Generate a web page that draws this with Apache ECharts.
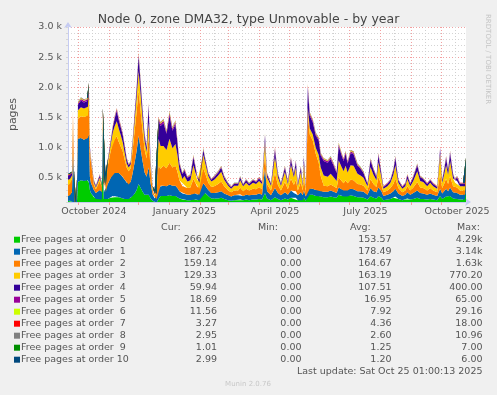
<!DOCTYPE html>
<html><head><meta charset="utf-8">
<script src="https://cdn.jsdelivr.net/npm/echarts@6/dist/echarts.min.js"></script>
<style>html,body{margin:0;padding:0;background:#f0f0f0;}#c{width:497px;height:395px;}</style>
</head><body><div id="c"></div>
<script>
// ---- data ----
const startDate = '2024-09-21';
const endDate = '2025-10-26';
const dayOffsets = [0,2,4,5,6,7,8,9,10,13,16,19,20,21,22,23,26,28,32,34,35,36,38,40,43,45,47,49,51,53,55,57,59,61,63,65,67,69,71,73,75,77,79,81,83,85,87,89,91,93,96,99,102,105,108,110,112,115,117,120,123,126,128,130,132,136,138,141,144,147,151,154,157,161,164,167,171,173,176,179,182,186,189,192,195,198,200,204,208,211,214,218,221,224,227,229,231,234,236,237,239,241,243,246,249,252,254,257,261,264,267,270,272,275,277,279,281,284,287,291,294,297,301,304,307,310,312,315,317,321,324,327,329,332,336,339,341,344,347,351,354,357,361,364,367,371,374,376,378,380,382,384,387,389,391,394,397,399,400];

const order0 = [117,120,110,100,90,0,0,100,430,460,
450,470,460,420,300,250,180,150,150,140,
600,150,140,150,170,200,180,190,180,170,
160,150,150,150,170,200,240,300,400,330,
270,220,200,220,160,120,90,90,150,200,
200,200,210,200,200,180,160,140,140,130,
130,150,140,130,130,280,250,200,160,160,
160,170,150,130,120,130,130,140,130,140,
130,140,140,150,140,250,160,130,180,150,
130,160,140,170,150,170,130,160,130,170,
120,230,220,220,200,200,190,180,180,190,
180,170,220,200,190,200,190,210,200,180,
180,170,140,200,170,160,200,170,130,140,
150,170,190,150,130,140,160,140,150,170,
150,150,140,150,140,130,200,150,170,190,
170,200,160,150,150,140,140,140,266];

const order1 = [83,90,150,800,400,0,0,300,720,700,
680,690,700,800,220,170,120,100,150,120,
700,110,120,250,330,400,400,420,400,380,
360,320,270,240,260,380,520,650,800,650,
500,370,320,450,250,110,70,60,200,170,
170,160,180,170,170,150,120,100,100,90,
90,110,100,90,90,130,120,100,90,90,
100,110,90,80,70,80,80,90,70,80,
80,80,80,90,80,400,120,80,150,100,
80,100,80,120,100,110,80,100,80,120,
70,100,100,100,100,100,90,90,90,100,
90,80,120,110,100,110,100,110,110,100,
100,100,80,130,110,100,140,110,70,80,
90,110,130,90,70,80,100,80,100,120,
100,90,80,90,80,70,120,90,110,130,
110,140,100,90,100,80,80,80,187];

const order2 = [183,190,220,680,100,0,0,50,330,360,
380,370,370,500,400,350,80,60,150,80,
200,70,60,300,450,500,550,580,520,470,
420,330,250,220,230,380,520,650,750,620,
500,380,300,500,230,70,40,40,350,280,
330,300,360,300,330,270,180,120,140,110,
120,220,180,120,100,250,200,120,100,110,
140,160,120,80,70,80,80,110,80,100,
80,100,90,110,90,250,120,80,250,130,
80,170,90,200,130,190,80,170,80,220,
70,1230,900,800,600,450,250,100,90,100,
90,80,170,140,120,150,120,150,150,120,
110,100,70,150,120,90,180,100,60,70,
90,120,170,90,60,70,100,70,90,140,
90,90,70,90,70,60,250,90,120,170,
120,190,100,90,90,70,70,70,159];

const order3 = [84,80,60,30,20,0,0,20,140,150,
140,150,150,200,60,40,40,30,50,30,
100,30,30,60,110,150,230,250,220,190,
150,110,70,60,60,100,180,250,320,280,
200,140,110,250,80,30,20,30,450,380,
330,300,400,320,360,280,170,120,150,110,
120,230,170,110,100,220,170,110,90,110,
140,160,110,80,60,80,80,120,80,100,
80,100,90,100,90,200,110,80,270,130,
80,170,90,230,130,200,80,170,80,230,
60,100,100,100,100,130,140,170,160,180,
150,120,280,230,200,240,180,240,240,170,
150,130,70,200,150,110,240,130,60,70,
90,150,220,90,60,70,120,70,110,180,
110,100,70,90,70,60,330,90,150,220,
150,250,130,90,110,70,70,70,129];

const order4 = [66,60,40,10,10,0,0,10,90,110,
100,90,100,100,30,20,30,20,40,20,
50,20,20,30,50,80,130,170,140,130,
120,100,70,40,40,50,90,130,250,180,
130,90,70,280,60,20,10,15,300,330,
380,270,380,290,330,200,100,80,90,60,
70,130,90,60,50,80,60,40,30,40,
50,70,40,30,25,30,30,50,25,40,
30,40,30,40,30,100,50,30,110,50,
30,70,30,90,50,90,30,70,30,100,
25,330,210,200,200,240,200,240,230,240,
190,130,240,190,170,200,150,200,190,130,
110,80,40,110,80,50,120,50,30,40,
40,70,120,40,30,40,60,40,60,100,
60,50,40,40,40,30,80,40,70,120,
70,130,60,40,60,40,40,40,60];

const order5 = [15,14,12,10,8,0,0,5,25,28,
26,25,26,30,12,10,8,7,12,8,
10,8,8,12,15,18,22,25,22,20,
20,18,15,12,12,15,20,25,30,26,
22,18,15,30,14,8,6,6,30,35,
38,32,40,34,36,28,20,16,18,14,
15,24,18,14,12,20,16,12,10,11,
13,16,12,9,8,9,9,13,9,11,
9,11,10,12,10,20,12,9,22,13,
9,16,10,19,13,18,9,16,9,20,
8,40,32,30,28,30,26,28,26,28,
24,18,32,26,24,28,22,28,27,20,
18,15,10,18,15,12,20,12,8,10,
11,15,20,11,8,10,13,10,12,18,
12,11,10,11,10,8,18,11,15,20,
15,22,13,11,12,10,10,10,19];

const order6 = [8,7,6,5,4,0,0,3,12,14,
12,12,13,14,6,5,4,4,5,4,
5,4,4,6,7,8,10,12,10,9,
9,8,7,6,6,7,9,12,15,12,
10,8,7,14,6,4,3,3,14,15,
16,14,18,15,16,12,9,7,8,6,
7,11,8,6,6,9,7,6,5,5,
6,7,5,4,4,4,4,6,4,5,
4,5,5,6,5,9,6,4,10,6,
4,7,5,9,6,8,4,7,4,9,
4,20,14,13,12,13,11,12,11,12,
10,8,14,11,10,12,10,12,12,9,
8,7,5,8,7,5,9,6,4,5,
5,7,9,5,4,5,6,5,6,8,
6,5,5,5,5,4,8,5,7,9,
7,10,6,5,6,5,5,5,12];

const order7 = [4,4,3,3,2,0,0,2,6,7,
6,6,6,7,3,3,2,2,3,2,
3,2,2,3,4,4,5,6,5,5,
4,4,3,3,3,4,5,6,7,6,
5,4,4,6,3,2,2,2,6,6,
7,6,8,7,7,6,4,3,4,3,
3,5,4,3,3,4,4,3,2,3,
3,4,3,2,2,2,2,3,2,3,
2,3,2,3,2,4,3,2,5,3,
2,4,2,4,3,4,2,4,2,4,
2,8,6,6,5,6,5,5,5,6,
5,4,6,5,5,6,5,6,6,4,
4,3,2,4,3,3,4,3,2,2,
3,3,4,3,2,2,3,2,3,4,
3,3,2,3,2,2,4,3,3,4,
3,5,3,3,3,2,2,2,3];

const order8 = [3,2,2,2,1,0,0,1,4,4,
4,4,4,4,2,2,2,1,2,1,
2,1,1,2,2,3,3,3,3,3,
3,2,2,2,2,2,3,3,4,3,
3,2,2,3,2,1,1,1,3,3,
4,3,4,3,4,3,2,2,2,2,
2,3,2,2,2,2,2,2,2,2,
2,2,2,1,1,1,1,2,1,2,
1,2,1,2,1,2,2,1,3,2,
1,2,1,2,2,2,1,2,1,2,
1,4,3,3,3,3,3,3,3,3,
2,2,3,3,2,3,2,3,3,2,
2,2,1,2,2,2,2,2,1,1,
2,2,2,2,1,1,2,1,2,2,
2,2,1,2,1,1,2,2,2,2,
2,3,2,2,2,1,1,1,3];

const order9 = [1,1,1,1,1,0,0,0,2,2,
2,2,2,2,1,1,1,1,1,1,
1,1,1,1,1,1,1,2,1,1,
1,1,1,1,1,1,1,2,2,2,
1,1,1,2,1,1,0,0,1,1,
2,1,2,1,2,1,1,1,1,1,
1,1,1,1,1,1,1,1,1,1,
1,1,1,1,0,1,1,1,1,1,
1,1,1,1,1,1,1,1,1,1,
1,1,1,1,1,1,1,1,1,1,
0,2,1,1,1,1,1,1,1,1,
1,1,1,1,1,1,1,1,1,1,
1,1,1,1,1,1,1,1,1,1,
1,1,1,1,1,1,1,1,1,1,
1,1,1,1,1,1,1,1,1,1,
1,1,1,1,1,1,1,1,1];

const order10 = [1,1,1,1,1,0,0,0,2,2,
2,2,2,2,1,1,1,1,1,1,
1,1,1,1,1,1,1,1,1,1,
1,1,1,1,1,1,1,1,2,1,
1,1,1,1,1,1,0,0,1,1,
1,1,1,1,1,1,1,1,1,1,
1,1,1,1,1,1,1,1,1,1,
1,1,1,1,0,1,1,1,1,1,
1,1,1,1,1,1,1,1,1,1,
1,1,1,1,1,1,1,1,1,1,
0,1,1,1,1,1,1,1,1,1,
1,1,1,1,1,1,1,1,1,1,
1,1,1,1,1,1,1,1,1,1,
1,1,1,1,1,1,1,1,1,1,
1,1,1,1,1,1,1,1,1,1,
1,1,1,1,1,1,1,1,3];

const seriesNames = ['Free pages at order  0','Free pages at order  1','Free pages at order  2','Free pages at order  3','Free pages at order  4','Free pages at order  5','Free pages at order  6','Free pages at order  7','Free pages at order  8','Free pages at order  9','Free pages at order 10'];
const seriesColors = ['#00CC00','#0066B3','#FF8000','#FFCC00','#330099','#990099','#CCFF00','#FF0000','#808080','#008F00','#00487D'];
const curValues = ['266.42','187.23','159.14','129.33','59.94','18.69','11.56','3.27','2.95','1.01','2.99'];
const minValues = ['0.00','0.00','0.00','0.00','0.00','0.00','0.00','0.00','0.00','0.00','0.00'];
const avgValues = ['153.57','178.49','164.67','163.19','107.51','16.95','7.92','4.36','2.60','1.25','1.20'];
const maxValues = ['4.29k','3.14k','1.63k','770.20','400.00','65.00','29.16','18.00','10.96','7.00','6.00'];

const yTicks = [500,1000,1500,2000,2500,3000];
const yTickLabels = ['0.5 k','1.0 k','1.5 k','2.0 k','2.5 k','3.0 k'];
const xTickDates = ['2024-10-17','2025-01-16','2025-04-17','2025-07-17','2025-10-17'];
const xTickLabels = ['October 2024','January 2025','April 2025','July 2025','October 2025'];
const monthStarts = ['2024-10-01','2024-11-01','2024-12-01','2025-01-01','2025-02-01','2025-03-01','2025-04-01','2025-05-01','2025-06-01','2025-07-01','2025-08-01','2025-09-01','2025-10-01'];
const midMonths = ['2024-10-15','2024-11-15','2024-12-15','2025-01-15','2025-02-15','2025-03-15','2025-04-15','2025-05-15','2025-06-15','2025-07-15','2025-08-15','2025-09-15','2025-10-15'];

// ---- chart ----
const DAY = 86400000;
const ts = s => new Date(s + 'T00:00:00Z').getTime();
const t0 = ts(startDate);
const t1 = ts(endDate);
const FONT = 'DejaVu Sans';
const allSeries = [order0,order1,order2,order3,order4,order5,order6,order7,order8,order9,order10];
const xTickTs = xTickDates.map(ts);

const series = allSeries.map((arr, k) => ({
  name: seriesNames[k], type: 'line', stack: 'total', xAxisIndex: 0,
  data: dayOffsets.map((d, i) => [t0 + d * DAY, arr[i]]),
  symbol: 'none', showSymbol: false, lineStyle: { width: 0 },
  itemStyle: { color: seriesColors[k] },
  areaStyle: { color: seriesColors[k], opacity: 1 },
  z: 2, animation: false, silent: true
}));
series.push({
  type: 'line', data: [], z: 1, silent: true, xAxisIndex: 0,
  markLine: {
    z: 1, silent: true, symbol: ['none','none'], animation: false,
    label: { show: false },
    lineStyle: { type: [1, 2], width: 1 },
    data: monthStarts.map(d => ({ xAxis: ts(d), lineStyle: { color: '#f2a0a0', type: [1,2], width: 1 } }))
      .concat(midMonths.map(d => ({ xAxis: ts(d), lineStyle: { color: '#cfcfcf', type: [1,2], width: 1 } })))
  }
});

const graphic = [];
const rowY = i => 239.7 + i * 12;
const colRight = [217, 301.5, 391.5, 482.5];
const heads = ['Cur:', 'Min:', 'Avg:', 'Max:'];
const headX = [161, 258, 350, 457];
heads.forEach((h, j) => graphic.push({ type: 'text', x: headX[j], y: 227.7,
  style: { text: h, font: '9.5px ' + FONT, fill: '#555', textAlign: 'left', textVerticalAlign: 'middle' } }));
seriesNames.forEach((n, i) => {
  graphic.push({ type: 'rect', shape: { x: 14, y: rowY(i) - 3, width: 6, height: 6 }, style: { fill: seriesColors[i] } });
  graphic.push({ type: 'text', x: 21, y: rowY(i), style: { text: n, font: '9.5px ' + FONT, fill: '#555', textAlign: 'left', textVerticalAlign: 'middle' } });
  [curValues, minValues, avgValues, maxValues].forEach((col, j) => {
    graphic.push({ type: 'text', x: colRight[j], y: rowY(i), style: { text: col[i], font: '9.5px ' + FONT, fill: '#555', textAlign: 'right', textVerticalAlign: 'middle' } });
  });
});
graphic.push({ type: 'text', x: 482.5, y: 371.7, style: { text: 'Last update: Sat Oct 25 01:00:13 2025', font: '9.5px ' + FONT, fill: '#555', textAlign: 'right', textVerticalAlign: 'middle' } });
graphic.push({ type: 'text', x: 248, y: 384, style: { text: 'Munin 2.0.76', font: '7px ' + FONT, fill: '#c8c8c8', textAlign: 'center', textVerticalAlign: 'middle' } });
graphic.push({ type: 'text', x: 487.5, y: 14, rotation: -Math.PI / 2, style: { text: 'RRDTOOL / TOBI OETIKER', font: '7px ' + FONT, fill: '#c4c4c4', textAlign: 'left', textVerticalAlign: 'middle' } });

const chart = echarts.init(document.getElementById('c'), null, { renderer: 'canvas' });
chart.setOption({
  backgroundColor: '#f0f0f0',
  animation: false,
  title: { text: 'Node 0, zone DMA32, type Unmovable - by year', left: 'center', top: 8,
    textStyle: { fontFamily: FONT, fontSize: 12.5, fontWeight: 'normal', color: '#444' } },
  grid: { left: 66, top: 27, width: 400, height: 175, show: true, backgroundColor: '#ffffff', borderWidth: 0 },
  xAxis: [{
    type: 'time', min: t0, max: t1, position: 'bottom',
    axisLine: { show: true, lineStyle: { color: '#c5cbf2', width: 1 }, symbol: ['none', 'arrow'], symbolSize: [6, 6], symbolOffset: [0, 5] },
    axisTick: { show: false }, axisLabel: { show: false }, splitLine: { show: false }
  }, {
    type: 'value', min: t0, max: t1, position: 'bottom', scale: true,
    axisLine: { show: false },
    axisTick: { show: true, customValues: monthStarts.map(ts), length: 3, lineStyle: { color: '#f2a0a0' } },
    axisLabel: { customValues: xTickTs, margin: 5, fontFamily: FONT, fontSize: 9.5, color: '#555',
      formatter: (v) => { const i = xTickTs.indexOf(v); return i >= 0 ? xTickLabels[i] : ''; } },
    splitLine: { show: false }
  }],
  yAxis: {
    type: 'value', min: 100, max: 3000, interval: 100,
    name: 'pages', nameLocation: 'middle', nameGap: 49, nameRotate: 90,
    nameTextStyle: { fontFamily: FONT, fontSize: 11, color: '#555' },
    axisLine: { show: true, lineStyle: { color: '#c5cbf2', width: 1 }, symbol: ['none', 'arrow'], symbolSize: [6, 6], symbolOffset: [0, 5] },
    axisTick: { show: true, interval: 0, length: 2, lineStyle: { color: '#d6d6d6' } },
    axisLabel: { interval: 0, margin: 6, fontFamily: FONT, fontSize: 9.5, color: '#555',
      formatter: (v) => { const i = yTicks.indexOf(v); return i >= 0 ? yTickLabels[i] : ''; } },
    splitLine: { show: true, lineStyle: { type: [1, 2], width: 1, color: ['#d4d4d4','#d4d4d4','#d4d4d4','#d4d4d4','#f2a0a0'] } }
  },
  graphic: graphic,
  series: series
});
</script></body></html>
